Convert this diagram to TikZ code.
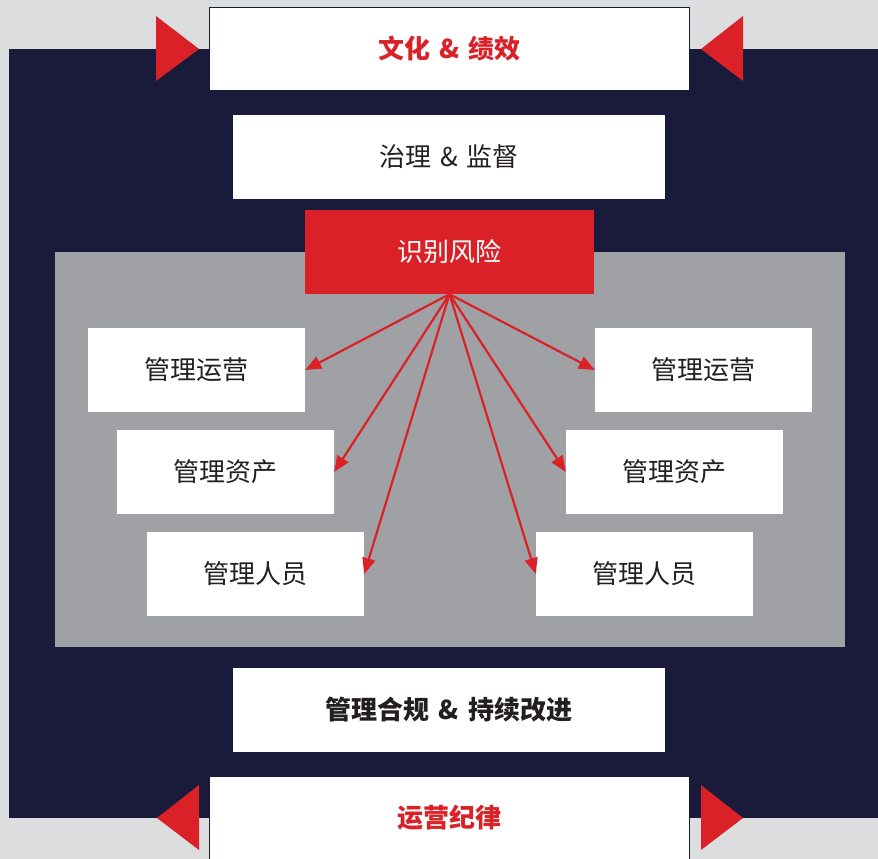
\documentclass[tikz,border=0pt]{standalone}
\usepackage{fontspec}
\setmainfont{Noto Sans CJK SC}
\usetikzlibrary{arrows.meta}
\definecolor{navy}{HTML}{1A1A3A}
\definecolor{rred}{HTML}{DA2128}
\definecolor{outergray}{HTML}{DCDDDF}
\definecolor{innergray}{HTML}{A0A1A4}
\definecolor{txt}{HTML}{231F20}
\newcommand{\amp}{\hspace{9pt}\&\hspace{9pt}}
\tikzset{
  whitebox/.style={rectangle, fill=white, inner sep=0pt, minimum width=217pt, minimum height=84pt, text=txt, font=\fontsize{26}{31}\selectfont},
  widebox/.style={whitebox, minimum width=432pt},
  endbox/.style={whitebox, minimum width=480pt, minimum height=83pt, draw=navy, line width=1.8pt, text=rred, font=\fontsize{26}{31}\selectfont\bfseries},
  redbox/.style={rectangle, fill=rred, inner sep=0pt, minimum width=289pt, minimum height=84pt, text=white, font=\fontsize{26}{31}\selectfont},
  riskarrow/.style={draw=rred, line width=2.2pt, -{Triangle[length=16pt,width=13pt]}},
  tri/.style={fill=rred}
}
\begin{document}
\begin{tikzpicture}[x=1pt,y=-1pt]
\useasboundingbox (0,0) rectangle (878,859);
\fill[outergray] (0,0) rectangle (878,859);
\fill[navy] (9,49) rectangle (878,818);
\fill[innergray] (55,252) rectangle (845,647);

\node[endbox] (culture) at (449.5,49) {文化\amp 绩效};
\node[widebox] (gov) at (449,157) {治理\amp 监督};
\node[redbox] (risk) at (449.5,252) {识别风险};

\node[whitebox] (l1) at (196.5,370) {管理运营};
\node[whitebox] (l2) at (225.5,472) {管理资产};
\node[whitebox] (l3) at (255.5,574) {管理人员};
\node[whitebox] (r1) at (703.5,370) {管理运营};
\node[whitebox] (r2) at (674.5,472) {管理资产};
\node[whitebox] (r3) at (644.5,574) {管理人员};

\node[widebox, font=\fontsize{26}{31}\selectfont\bfseries] (comp) at (449,710) {管理合规\amp 持续改进};
\node[endbox] (disc) at (449.5,818) {运营纪律};

\foreach \t in {l1.east,l2.east,l3.east,r1.west,r2.west,r3.west}
  \draw[riskarrow] (risk.south) -- (\t);

\fill[tri] (156,16) -- (156,81) -- (199,49) -- cycle;
\fill[tri] (743,16) -- (743,81) -- (701,49) -- cycle;
\fill[tri] (199,785) -- (199,850) -- (157,818) -- cycle;
\fill[tri] (701,785) -- (701,850) -- (743,818) -- cycle;
\end{tikzpicture}
\end{document}
